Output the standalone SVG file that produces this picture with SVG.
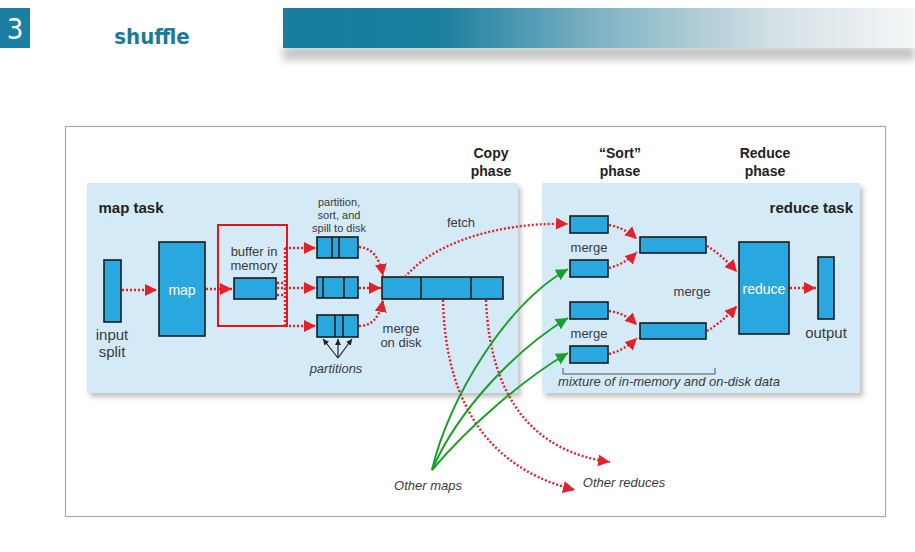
<svg xmlns="http://www.w3.org/2000/svg" width="915" height="552" viewBox="0 0 915 552">
<defs>
<linearGradient id="bar" x1="0" y1="0" x2="1" y2="0">
<stop offset="0" stop-color="#177e9f"/>
<stop offset="0.25" stop-color="#1b7f9e"/>
<stop offset="0.5" stop-color="#7fb3c4"/>
<stop offset="0.78" stop-color="#d5e1e5"/>
<stop offset="1" stop-color="#f4f6f7"/>
</linearGradient>
<filter id="sh" x="-5%" y="-5%" width="115%" height="120%">
<feGaussianBlur stdDeviation="2.5"/>
</filter>
<filter id="sh2" x="-5%" y="-50%" width="110%" height="200%">
<feGaussianBlur stdDeviation="4"/>
</filter>
<marker id="ar" viewBox="0 0 12 12" refX="12" refY="6" markerWidth="12" markerHeight="12" markerUnits="userSpaceOnUse" orient="auto">
<path d="M0,0 L12,6 L0,12 z" fill="#e3212b"/>
</marker>
<marker id="ag" viewBox="0 0 12 12" refX="12" refY="6" markerWidth="12" markerHeight="12" markerUnits="userSpaceOnUse" orient="auto">
<path d="M0,0 L12,6 L0,12 z" fill="#18a02a"/>
</marker>
<marker id="ak" viewBox="0 0 8 8" refX="8" refY="4" markerWidth="6" markerHeight="6" markerUnits="userSpaceOnUse" orient="auto">
<path d="M0,0 L8,4 L0,8 z" fill="#222"/>
</marker>
</defs>
<style>
.t{font-family:"Liberation Sans",Arial,sans-serif;font-size:13px;fill:#3a3a3a;text-anchor:middle}
.s{font-size:11px}
.b{font-family:"Liberation Sans",Arial,sans-serif;font-size:14px;font-weight:bold;fill:#222;text-anchor:middle}
.i{font-style:italic}
.w{fill:#fff;font-size:14px}
.box{fill:#29a8e0;stroke:#1b1b1b;stroke-width:1.6}
.div{stroke:#1b1b1b;stroke-width:1.6}
.red{fill:none;stroke:#e3212b;stroke-width:2.4;stroke-dasharray:2 2}
.grn{fill:none;stroke:#18a02a;stroke-width:2}
.blk{fill:none;stroke:#222;stroke-width:1.2}
.panel{fill:#d4ebf7}
</style>
<rect width="915" height="552" fill="#fff"/>
<g id="header">
<rect x="0" y="8" width="30" height="40" fill="#1a7fa0"/>
<text x="15" y="39" style="font-family:'DejaVu Sans Condensed','DejaVu Sans',sans-serif;font-size:29px;fill:#fff;text-anchor:middle">3</text>
<text x="152" y="44" style="font-family:'DejaVu Sans Condensed','DejaVu Sans',sans-serif;font-size:22px;font-weight:bold;fill:#1b7a99;text-anchor:middle">shuffle</text>
<rect x="283" y="46" width="632" height="14" fill="#aaa" filter="url(#sh2)" opacity="0.7"/>
<rect x="283" y="8" width="632" height="40" fill="url(#bar)"/>
</g>
<g id="frame">
<rect x="65.5" y="126.5" width="820" height="390" fill="#fff" stroke="#aaa" stroke-width="1.2"/>
</g>
<g id="map-task">
<rect x="90" y="187" width="431" height="210" fill="#999" filter="url(#sh)" opacity="0.6"/>
<rect x="87" y="183" width="431" height="210" class="panel"/>
<text x="131" y="213" class="b" style="font-size:15px">map task</text>
</g>
<g id="reduce-task">
<rect x="545" y="187" width="318" height="210" fill="#999" filter="url(#sh)" opacity="0.6"/>
<rect x="542" y="183" width="318" height="210" class="panel"/>
<text x="853" y="213" class="b" style="font-size:15px;text-anchor:end">reduce task</text>
</g>
<g id="phases">
<text x="491" y="158" class="b">Copy</text>
<text x="491" y="176" class="b">phase</text>
<text x="620" y="158" class="b">“Sort”</text>
<text x="620" y="176" class="b">phase</text>
<text x="765" y="158" class="b">Reduce</text>
<text x="765" y="176" class="b">phase</text>
</g>
<g id="input-split">
<rect x="104" y="260" width="17" height="62" class="box"/>
<text x="112" y="340" class="t" style="font-size:15px">input</text>
<text x="112" y="357" class="t" style="font-size:15px">split</text>
</g>
<g id="map">
<rect x="159" y="242" width="46" height="94" class="box"/>
<text x="182" y="295" class="t w">map</text>
</g>
<g id="buffer">
<rect x="218" y="225" width="69" height="101" fill="none" stroke="#e8141c" stroke-width="2"/>
<text x="254" y="256" class="t">buffer in</text>
<text x="254" y="270" class="t">memory</text>
<rect x="234" y="278" width="42" height="21" class="box"/>
</g>
<g id="partitions">
<text x="339" y="206" class="t s">partition,</text>
<text x="339" y="219" class="t s">sort, and</text>
<text x="339" y="232" class="t s">spill to disk</text>
<rect x="317" y="237" width="41" height="21" class="box"/>
<line x1="332" y1="237" x2="332" y2="258" class="div"/>
<line x1="339" y1="237" x2="339" y2="258" class="div"/>
<rect x="317" y="277" width="41" height="21" class="box"/>
<line x1="323" y1="277" x2="323" y2="298" class="div"/>
<line x1="344" y1="277" x2="344" y2="298" class="div"/>
<rect x="317" y="315" width="41" height="22" class="box"/>
<line x1="335" y1="315" x2="335" y2="337" class="div"/>
<line x1="343" y1="315" x2="343" y2="337" class="div"/>
<text x="336" y="373" class="t i">partitions</text>
</g>
<g id="merged">
<rect x="382" y="277" width="121" height="22" class="box"/>
<line x1="421" y1="277" x2="421" y2="299" class="div"/>
<line x1="471" y1="277" x2="471" y2="299" class="div"/>
<text x="401" y="333" class="t">merge</text>
<text x="401" y="347" class="t">on disk</text>
<text x="461" y="227" class="t">fetch</text>
</g>
<g id="sort">
<rect x="570" y="216" width="38" height="17" class="box"/>
<text x="589" y="252" class="t">merge</text>
<rect x="570" y="260" width="38" height="17" class="box"/>
<rect x="570" y="302" width="38" height="17" class="box"/>
<text x="589" y="338" class="t">merge</text>
<rect x="570" y="346" width="38" height="17" class="box"/>
<rect x="640" y="237" width="66" height="16" class="box"/>
<rect x="640" y="323" width="66" height="16" class="box"/>
<text x="692" y="296" class="t">merge</text>
<path d="M563,368 L563,374 L715,374 L715,368" fill="none" stroke="#555" stroke-width="1"/>
<text x="669" y="386" class="t i">mixture of in-memory and on-disk data</text>
</g>
<g id="reduce">
<rect x="739" y="242" width="50" height="92" class="box"/>
<text x="764" y="294" class="t w">reduce</text>
</g>
<g id="output">
<rect x="818" y="257" width="16" height="62" class="box"/>
<text x="826" y="338" class="t" style="font-size:15px">output</text>
</g>
<g id="others">
<text x="428" y="490" class="t i">Other maps</text>
<text x="624" y="487" class="t i">Other reduces</text>
</g>
<g id="connectors">
<line x1="122" y1="290" x2="157" y2="290" class="red" marker-end="url(#ar)"/>
<line x1="206" y1="289" x2="232" y2="289" class="red" marker-end="url(#ar)"/>
<line x1="277" y1="283" x2="285" y2="283" class="red"/>
<line x1="277" y1="295" x2="285" y2="295" class="red"/>
<line x1="285" y1="248" x2="285" y2="326" class="red"/>
<line x1="285" y1="248" x2="316" y2="248" class="red" marker-end="url(#ar)"/>
<line x1="277" y1="288" x2="316" y2="288" class="red" marker-end="url(#ar)"/>
<line x1="285" y1="326" x2="316" y2="326" class="red" marker-end="url(#ar)"/>
<path d="M359,247 Q378,248 383,276" class="red" marker-end="url(#ar)"/>
<line x1="359" y1="288" x2="381" y2="288" class="red" marker-end="url(#ar)"/>
<path d="M359,326 Q378,326 383,300" class="red" marker-end="url(#ar)"/>
<line x1="338" y1="358" x2="323" y2="339" class="blk" marker-end="url(#ak)"/>
<line x1="338" y1="358" x2="338" y2="339" class="blk" marker-end="url(#ak)"/>
<line x1="338" y1="358" x2="352" y2="339" class="blk" marker-end="url(#ak)"/>
<path d="M405,277 C440,236 515,222 568,224" class="red" marker-end="url(#ar)"/>
<path d="M443,300 C445,385 475,465 575,490" class="red" marker-end="url(#ar)"/>
<path d="M486,300 C490,400 535,452 610,462" class="red" marker-end="url(#ar)"/>
<path d="M432,470 C448,400 505,305 568,269" class="grn" marker-end="url(#ag)"/>
<path d="M432,470 C458,410 515,350 568,318" class="grn" marker-end="url(#ag)"/>
<path d="M432,470 C470,425 525,378 568,353" class="grn" marker-end="url(#ag)"/>
<path d="M609,225 Q625,228 637,239" class="red" marker-end="url(#ar)"/>
<path d="M609,268 Q625,264 637,252" class="red" marker-end="url(#ar)"/>
<path d="M609,311 Q625,313 637,325" class="red" marker-end="url(#ar)"/>
<path d="M609,354 Q625,350 637,338" class="red" marker-end="url(#ar)"/>
<path d="M707,246 Q722,255 737,272" class="red" marker-end="url(#ar)"/>
<path d="M707,331 Q722,322 737,306" class="red" marker-end="url(#ar)"/>
<line x1="790" y1="288" x2="816" y2="288" class="red" marker-end="url(#ar)"/>
</g>
</svg>
